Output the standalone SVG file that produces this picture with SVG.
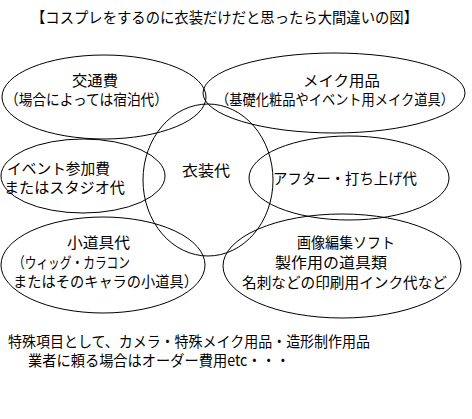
<svg xmlns="http://www.w3.org/2000/svg" width="472" height="419" viewBox="0 0 472 419">
<style>
.e{fill:none;stroke:#000;stroke-width:1}
text{font-family:"Noto Sans CJK JP","Noto Sans",sans-serif;font-size:15px;fill:#000}
.m{text-anchor:middle}
</style>
<rect width="472" height="419" fill="#fff"/>
<text x="31" y="23" textLength="387" lengthAdjust="spacingAndGlyphs">【コスプレをするのに衣装だけだと思ったら大間違いの図】</text>
<g id="connectors"/>
<g id="n-koutsuhi">
<ellipse class="e" cx="104" cy="97" rx="102" ry="42"/>
<text x="95" y="86" class="m" textLength="46" lengthAdjust="spacingAndGlyphs">交通費</text>
<text x="5" y="105" textLength="163" lengthAdjust="spacingAndGlyphs">（場合によっては宿泊代）</text>
</g>
<g id="n-make">
<ellipse class="e" cx="334" cy="93" rx="131" ry="40"/>
<text x="303" y="86" textLength="77" lengthAdjust="spacingAndGlyphs">メイク用品</text>
<text x="216" y="105" style="font-size:14.5px" textLength="238" lengthAdjust="spacingAndGlyphs">（基礎化粧品やイベント用メイク道具）</text>
</g>
<g id="n-ishou">
<ellipse class="e" cx="208" cy="180" rx="65" ry="76"/>
<text x="182" y="176" textLength="48" lengthAdjust="spacingAndGlyphs">衣装代</text>
</g>
<g id="n-event">
<ellipse class="e" cx="83" cy="176" rx="82" ry="37"/>
<text x="7" y="174" textLength="103" lengthAdjust="spacingAndGlyphs">イベント参加費</text>
<text x="4" y="193" textLength="121" lengthAdjust="spacingAndGlyphs">またはスタジオ代</text>
</g>
<g id="n-after">
<ellipse class="e" cx="349" cy="178" rx="100" ry="42"/>
<text x="273" y="184" textLength="144" lengthAdjust="spacingAndGlyphs">アフター・打ち上げ代</text>
</g>
<g id="n-kodougu">
<ellipse class="e" cx="103" cy="265" rx="102" ry="48"/>
<text x="67" y="248" textLength="63" lengthAdjust="spacingAndGlyphs">小道具代</text>
<text x="13" y="268" textLength="117" lengthAdjust="spacingAndGlyphs">（ウィッグ・カラコン</text>
<text x="13" y="287" textLength="185" lengthAdjust="spacingAndGlyphs">またはそのキャラの小道具）</text>
</g>
<g id="n-gazou">
<ellipse class="e" cx="342" cy="266" rx="119" ry="52"/>
<text x="297" y="248" textLength="98" lengthAdjust="spacingAndGlyphs">画像編集ソフト</text>
<text x="275" y="268" textLength="112" lengthAdjust="spacingAndGlyphs">製作用の道具類</text>
<text x="242" y="288" textLength="205" lengthAdjust="spacingAndGlyphs">名刺などの印刷用インク代など</text>
</g>
<g id="note">
<text x="8" y="347" textLength="362" lengthAdjust="spacingAndGlyphs">特殊項目として、カメラ・特殊メイク用品・造形制作用品</text>
<text x="28" y="366" textLength="262" lengthAdjust="spacingAndGlyphs">業者に頼る場合はオーダー費用etc・・・</text>
</g>
</svg>
